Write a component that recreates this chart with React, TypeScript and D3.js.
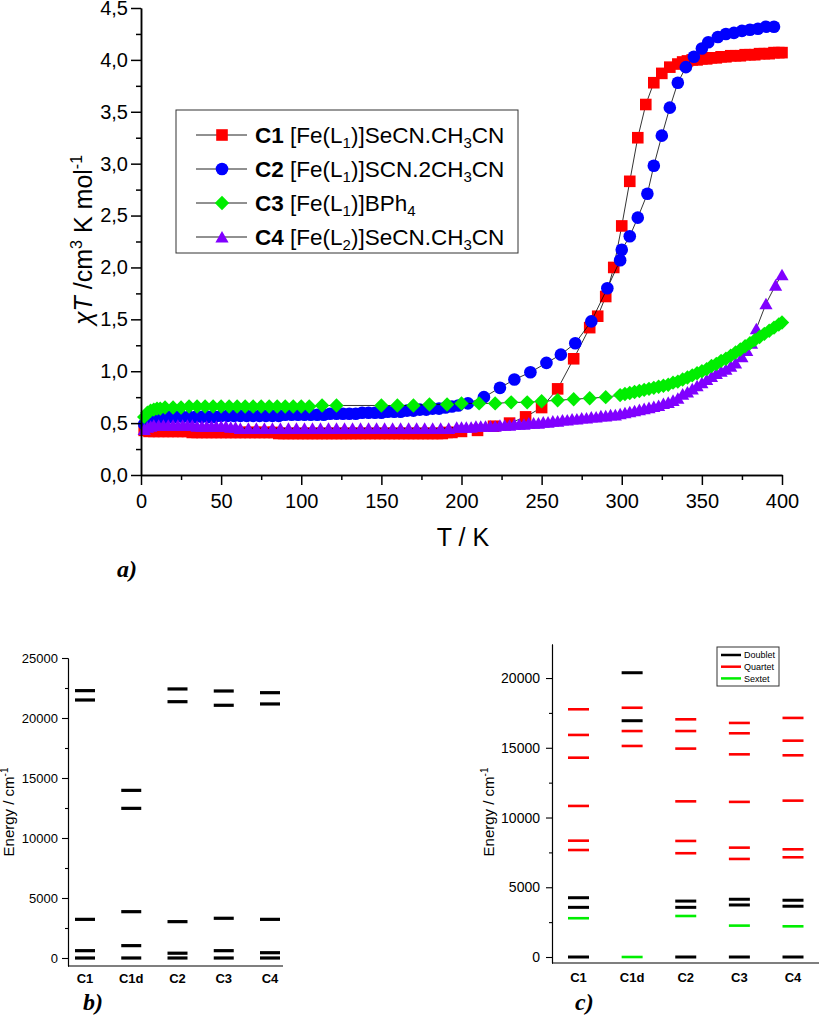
import React, { useEffect, useRef } from 'react';
import * as d3 from 'd3';

type Pt = [number, number];

// chi*T (cm3 K mol-1) against T (K) for the four complexes
const c1Data: Pt[] = [
  [2, 0.43], [5, 0.42], [8, 0.42], [11, 0.42], [14, 0.42], [17, 0.42], [20, 0.42], [23, 0.42], [26, 0.42], [29, 0.42],
  [32, 0.41], [35, 0.41], [38, 0.41], [41, 0.41], [44, 0.41], [47, 0.41], [50, 0.41], [53, 0.41], [56, 0.41], [59, 0.41],
  [62, 0.41], [65, 0.41], [68, 0.41], [71, 0.41], [74, 0.41], [77, 0.41], [80, 0.41], [83, 0.41], [86, 0.40], [89, 0.40],
  [92, 0.40], [95, 0.40], [98, 0.40], [101, 0.40], [104, 0.40], [107, 0.40], [110, 0.40], [113, 0.40], [116, 0.40], [119, 0.40],
  [122, 0.40], [125, 0.40], [128, 0.40], [131, 0.40], [134, 0.40], [137, 0.40], [140, 0.40], [143, 0.40], [146, 0.40], [149, 0.40],
  [152, 0.40], [155, 0.40], [158, 0.40], [161, 0.40], [164, 0.40], [167, 0.40], [170, 0.40], [173, 0.40], [176, 0.40], [179, 0.40],
  [182, 0.40], [185, 0.40], [188, 0.40], [191, 0.41], [194, 0.41],
  [200, 0.42], [210, 0.43], [220, 0.47], [230, 0.50], [240, 0.56], [250, 0.65], [260, 0.83], [270, 1.12], [280, 1.42], [285, 1.53],
  [290, 1.72], [295, 2.00], [300, 2.40], [305, 2.83], [310, 3.25], [315, 3.57], [320, 3.78], [325, 3.87], [330, 3.93], [335, 3.96],
  [338, 3.98], [341, 3.99], [344, 4.00], [347, 4.00], [350, 4.01], [353, 4.01], [356, 4.02], [359, 4.02], [362, 4.03], [365, 4.03],
  [368, 4.04], [371, 4.04], [374, 4.04], [377, 4.05], [380, 4.05], [383, 4.05], [386, 4.06], [389, 4.06], [392, 4.06], [395, 4.07],
  [398, 4.07], [400, 4.07],
];

const c2Data: Pt[] = [
  [2, 0.49], [4, 0.51], [6, 0.53], [8, 0.54], [10, 0.55], [14, 0.55], [18, 0.56], [22, 0.56], [26, 0.56], [30, 0.56],
  [34, 0.56], [38, 0.56], [42, 0.56], [46, 0.56], [50, 0.57], [54, 0.57], [58, 0.57], [62, 0.57], [66, 0.57], [70, 0.57],
  [74, 0.57], [78, 0.57], [82, 0.57], [86, 0.57], [90, 0.58], [94, 0.58], [98, 0.58], [102, 0.58], [106, 0.58], [110, 0.58],
  [114, 0.58], [118, 0.59], [122, 0.59], [126, 0.59], [130, 0.59], [134, 0.59], [138, 0.60], [142, 0.60], [146, 0.60], [150, 0.60],
  [154, 0.61], [158, 0.61], [162, 0.61], [166, 0.62], [170, 0.62], [174, 0.63], [178, 0.63], [182, 0.64], [186, 0.64], [190, 0.65],
  [194, 0.66], [198, 0.67],
  [204, 0.69], [214, 0.75], [224, 0.84], [233, 0.92], [243, 0.99], [253, 1.08], [262, 1.16], [271, 1.27], [281, 1.48], [291, 1.80],
  [299, 2.07], [300, 2.17], [305, 2.30], [310, 2.48], [316, 2.71], [320, 2.98], [325, 3.27], [330, 3.54], [335, 3.78], [340, 3.93],
  [345, 4.03], [350, 4.11], [354, 4.17], [360, 4.22], [365, 4.25], [370, 4.26], [375, 4.28], [380, 4.29], [385, 4.30], [390, 4.32],
  [395, 4.32],
];

const c3Data: Pt[] = [
  [2, 0.56], [4, 0.60], [6, 0.62], [8, 0.63], [10, 0.64], [12, 0.64], [15, 0.65], [20, 0.65], [25, 0.65], [30, 0.66],
  [35, 0.66], [40, 0.66], [45, 0.66], [50, 0.66], [55, 0.66], [60, 0.66], [65, 0.66], [70, 0.66], [75, 0.66], [80, 0.66],
  [85, 0.66], [90, 0.66], [95, 0.66], [100, 0.66], [105, 0.66], [113, 0.67], [122, 0.67], [150, 0.67], [160, 0.67], [170, 0.67],
  [180, 0.68], [191, 0.68], [200, 0.69], [211, 0.69], [221, 0.69], [231, 0.70], [241, 0.70], [250, 0.71], [260, 0.72], [270, 0.73],
  [280, 0.74], [290, 0.75], [299, 0.77], [302, 0.78], [305, 0.79], [308, 0.80], [311, 0.81], [314, 0.82], [317, 0.83], [320, 0.84],
  [323, 0.85], [326, 0.86], [329, 0.87], [332, 0.89], [335, 0.90], [338, 0.92], [341, 0.94], [344, 0.96], [347, 0.98], [350, 1.00],
  [353, 1.02], [356, 1.05], [359, 1.07], [362, 1.10], [365, 1.12], [368, 1.15], [371, 1.18], [374, 1.21], [377, 1.24], [380, 1.27],
  [383, 1.30], [386, 1.33], [389, 1.36], [392, 1.39], [395, 1.42], [398, 1.45], [400, 1.47],
];

const c4Data: Pt[] = [
  [2, 0.44], [4, 0.46], [6, 0.47], [8, 0.48], [11, 0.48], [14, 0.48], [17, 0.48], [20, 0.48], [23, 0.48], [26, 0.48],
  [29, 0.48], [32, 0.48], [35, 0.47], [38, 0.47], [41, 0.47], [44, 0.47], [47, 0.47], [50, 0.47], [53, 0.47], [56, 0.46],
  [59, 0.46], [62, 0.45], [67, 0.45], [72, 0.45], [77, 0.45], [82, 0.45], [87, 0.45], [92, 0.45], [97, 0.45], [102, 0.45],
  [107, 0.45], [112, 0.45], [117, 0.45], [122, 0.45], [127, 0.45], [132, 0.45], [137, 0.45], [142, 0.45], [147, 0.45], [152, 0.45],
  [157, 0.45], [162, 0.45], [167, 0.45], [172, 0.45], [177, 0.45], [182, 0.45], [187, 0.45], [192, 0.45], [197, 0.46],
  [200, 0.46], [203, 0.46], [206, 0.46], [209, 0.47], [212, 0.47], [215, 0.47], [218, 0.47], [221, 0.47], [224, 0.48], [227, 0.48],
  [230, 0.48], [233, 0.49], [236, 0.49], [239, 0.49], [242, 0.50], [245, 0.50], [248, 0.50], [251, 0.51], [254, 0.51], [257, 0.52],
  [260, 0.52], [263, 0.53], [266, 0.53], [269, 0.54], [272, 0.54], [275, 0.55], [278, 0.55], [281, 0.56], [284, 0.56], [287, 0.57],
  [290, 0.57], [293, 0.58], [296, 0.58], [299, 0.59], [302, 0.60], [305, 0.61], [308, 0.62], [311, 0.63], [314, 0.64], [317, 0.65],
  [320, 0.66], [323, 0.67], [326, 0.69], [329, 0.70], [332, 0.72], [335, 0.74], [338, 0.78], [341, 0.80], [344, 0.83], [347, 0.86],
  [350, 0.89], [353, 0.92], [356, 0.95], [359, 0.98], [362, 1.00], [365, 1.02], [368, 1.05], [371, 1.08], [375, 1.14], [378, 1.20],
  [381, 1.27], [384, 1.41], [390, 1.65], [396, 1.83], [400, 1.93],
];

const aXTicks = [0, 50, 100, 150, 200, 250, 300, 350, 400];
const aXMinor = [25, 75, 125, 175, 225, 275, 325, 375];
const aYTicks = [0, 0.5, 1, 1.5, 2, 2.5, 3, 3.5, 4, 4.5];
const aYMinor = [0.25, 0.75, 1.25, 1.75, 2.25, 2.75, 3.25, 3.75, 4.25];

// energy levels (cm-1)
const levelCats = ['C1', 'C1d', 'C2', 'C3', 'C4'];
const bLevels = [
  [0, 610, 3220, 21500, 22280],
  [0, 1030, 3860, 12470, 13970],
  [0, 400, 3030, 21360, 22420],
  [0, 610, 3310, 21060, 22250],
  [0, 440, 3220, 21170, 22110],
];
const bTicks = [0, 5000, 10000, 15000, 20000, 25000];
const bMinor = [2500, 7500, 12500, 17500, 22500];

const cDoublet = [
  [0, 3560, 4250],
  [16940, 20380],
  [0, 3560, 4010],
  [0, 3730, 4140],
  [0, 3640, 4070],
];
const cQuartet = [
  [7670, 8340, 10830, 14290, 15920, 17760],
  [15130, 16200, 17870],
  [7440, 8320, 11160, 14940, 16200, 17040],
  [7030, 7840, 11120, 14530, 16040, 16780],
  [7150, 7720, 11210, 14460, 15510, 17140],
];
const cSextet = [[2780], [0], [2940], [2250], [2200]];
const cTicks = [0, 5000, 10000, 15000, 20000];
const cMinor = [2500, 7500, 12500, 17500];
const spinLabels = ['Doublet', 'Quartet', 'Sextet'];
const spinColors = ['#000000', '#ff0000', '#00ee00'];

const SANS = '"Liberation Sans", Arial, sans-serif';
const SERIF = '"Liberation Serif", "Times New Roman", serif';

const markerPath = (shape: string) => {
  if (shape === 'square') return 'M-5.8,-5.8h11.6v11.6h-11.6Z';
  if (shape === 'diamond') return 'M0,-7.2L7.2,0L0,7.2L-7.2,0Z';
  if (shape === 'triangle') return 'M0,-6L6.6,5.6L-6.6,5.6Z';
  return d3.symbol().type(d3.symbolCircle).size(Math.PI * 6.3 * 6.3)() as string;
};

type Sel = d3.Selection<SVGGElement, unknown, null, undefined>;

const styleAxis = (g: Sel, width: number, size: number) => {
  g.selectAll('path, line').attr('stroke', '#000').attr('stroke-width', width);
  g.selectAll('text').attr('font-size', size).attr('font-family', SANS).attr('fill', '#000');
};

const App = () => {
  const svgRef = useRef<SVGSVGElement>(null);

  useEffect(() => {
    if (!svgRef.current) return;
    const svg = d3.select(svgRef.current);
    svg.selectAll('*').remove();

    // ---------- a) chi*T vs T ----------
    const ax = d3.scaleLinear().domain([0, 400]).range([141, 782]);
    const ay = d3.scaleLinear().domain([0, 4.5]).range([475, 8]);
    const ga = svg.append('g');

    const series = [
      { name: 'C1', data: c1Data, color: '#ff0000', shape: 'square' },
      { name: 'C2', data: c2Data, color: '#0000ff', shape: 'circle' },
      { name: 'C4', data: c4Data, color: '#8000ff', shape: 'triangle' },
      { name: 'C3', data: c3Data, color: '#00ee00', shape: 'diamond' },
    ];

    const line = d3.line<Pt>().x(d => ax(d[0])).y(d => ay(d[1]));
    series.forEach(s => {
      const g = ga.append('g');
      g.append('path').attr('d', line(s.data)).attr('fill', 'none').attr('stroke', '#000').attr('stroke-width', 0.8);
      g.selectAll('path.m').data(s.data).enter().append('path')
        .attr('class', 'm')
        .attr('d', markerPath(s.shape))
        .attr('transform', d => `translate(${ax(d[0])},${ay(d[1])})`)
        .attr('fill', s.color);
    });

    const fmtComma = (d: d3.NumberValue) => d3.format('.1f')(+d).replace('.', ',');
    const axMinor = ga.append('g').attr('transform', `translate(0,${ay(0)})`)
      .call(d3.axisBottom(ax).tickValues(aXMinor).tickSize(5).tickSizeOuter(0).tickFormat(() => ''));
    styleAxis(axMinor, 1.5, 20);
    const axMajor = ga.append('g').attr('transform', `translate(0,${ay(0)})`)
      .call(d3.axisBottom(ax).tickValues(aXTicks).tickSize(10).tickPadding(9).tickSizeOuter(0));
    styleAxis(axMajor, 1.5, 20);
    const ayMinor = ga.append('g').attr('transform', `translate(${ax(0)},0)`)
      .call(d3.axisLeft(ay).tickValues(aYMinor).tickSize(5).tickSizeOuter(0).tickFormat(() => ''));
    styleAxis(ayMinor, 1.5, 20);
    const ayMajor = ga.append('g').attr('transform', `translate(${ax(0)},0)`)
      .call(d3.axisLeft(ay).tickValues(aYTicks).tickSize(10).tickPadding(3).tickSizeOuter(0).tickFormat(fmtComma));
    styleAxis(ayMajor, 1.5, 20);

    ga.append('text').attr('x', 463).attr('y', 546).attr('text-anchor', 'middle')
      .attr('font-family', SANS).attr('font-size', 25).text('T / K');

    const yt = ga.append('text').attr('transform', 'translate(92,240) rotate(-90)')
      .attr('text-anchor', 'middle').attr('font-family', SANS).attr('font-size', 25);
    yt.append('tspan').attr('font-style', 'italic').text('χT');
    yt.append('tspan').text(' /cm');
    yt.append('tspan').attr('font-size', 16).attr('dy', -10).text('3');
    yt.append('tspan').attr('dy', 10).text(' K mol');
    yt.append('tspan').attr('font-size', 16).attr('dy', -10).text('-1');

    // legend
    const lg = ga.append('g');
    lg.append('rect').attr('x', 176).attr('y', 110).attr('width', 342).attr('height', 143)
      .attr('fill', '#fff').attr('stroke', '#333').attr('stroke-width', 1);
    const legendRows = [
      { name: 'C1', color: '#ff0000', shape: 'square', parts: [' [Fe(L', '1', ')]SeCN.CH', '3', 'CN'] },
      { name: 'C2', color: '#0000ff', shape: 'circle', parts: [' [Fe(L', '1', ')]SCN.2CH', '3', 'CN'] },
      { name: 'C3', color: '#00ee00', shape: 'diamond', parts: [' [Fe(L', '1', ')]BPh', '4'] },
      { name: 'C4', color: '#8000ff', shape: 'triangle', parts: [' [Fe(L', '2', ')]SeCN.CH', '3', 'CN'] },
    ];
    legendRows.forEach((r, i) => {
      const cy = 135 + i * 34;
      lg.append('line').attr('x1', 196).attr('x2', 247).attr('y1', cy).attr('y2', cy)
        .attr('stroke', '#222').attr('stroke-width', 1);
      lg.append('path').attr('d', markerPath(r.shape)).attr('transform', `translate(222,${cy})`).attr('fill', r.color);
      const t = lg.append('text').attr('x', 255).attr('y', cy + 7.5).attr('font-family', SANS).attr('font-size', 22.5);
      t.append('tspan').attr('font-weight', 'bold').text(r.name);
      r.parts.forEach((p, k) => {
        const sub = k % 2 === 1;
        t.append('tspan').attr('font-size', sub ? 15 : 22.5).attr('dy', sub ? 5 : (k > 0 ? -5 : 0)).text(p);
      });
    });

    ga.append('text').attr('x', 117).attr('y', 577).attr('font-family', SERIF)
      .attr('font-style', 'italic').attr('font-weight', 'bold').attr('font-size', 24).text('a)');

    // ---------- b) energy levels ----------
    const bx = d3.scalePoint<string>().domain(levelCats).range([85, 270]);
    const by = d3.scaleLinear().domain([-667, 25000]).range([966, 658]);
    const gb = svg.append('g');
    levelCats.forEach((c, i) => {
      gb.selectAll(null).data(bLevels[i]).enter().append('line')
        .attr('x1', (bx(c) as number) - 10).attr('x2', (bx(c) as number) + 10)
        .attr('y1', d => by(d)).attr('y2', d => by(d))
        .attr('stroke', '#000').attr('stroke-width', 3.2);
    });
    const byMinor = gb.append('g').attr('transform', 'translate(68,0)')
      .call(d3.axisLeft(by).tickValues(bMinor).tickSize(3).tickSizeOuter(0).tickFormat(() => ''));
    styleAxis(byMinor, 1.1, 13);
    const byMajor = gb.append('g').attr('transform', 'translate(68,0)')
      .call(d3.axisLeft(by).tickValues(bTicks).tickSize(6).tickPadding(4).tickSizeOuter(0).tickFormat(d3.format('d')));
    styleAxis(byMajor, 1.1, 13);
    gb.append('line').attr('x1', 68).attr('x2', 283).attr('y1', 966).attr('y2', 966)
      .attr('stroke', '#000').attr('stroke-width', 1.1);
    gb.selectAll(null).data(levelCats).enter().append('text')
      .attr('x', d => bx(d) as number).attr('y', 983).attr('text-anchor', 'middle')
      .attr('font-family', SANS).attr('font-weight', 'bold').attr('font-size', 13).text(d => d);
    const bt = gb.append('text').attr('transform', 'translate(14,812) rotate(-90)')
      .attr('text-anchor', 'middle').attr('font-family', SANS).attr('font-size', 15);
    bt.append('tspan').text('Energy / cm');
    bt.append('tspan').attr('font-size', 10).attr('dy', -6).text('-1');
    gb.append('text').attr('x', 83).attr('y', 1010).attr('font-family', SERIF)
      .attr('font-style', 'italic').attr('font-weight', 'bold').attr('font-size', 24).text('b)');

    // ---------- c) energy levels by spin state ----------
    const cx = d3.scalePoint<string>().domain(levelCats).range([578.5, 793]);
    const cyS = d3.scaleLinear().domain([-430, 22440]).range([963, 644]);
    const gc = svg.append('g');
    const spinSets = [cDoublet, cQuartet, cSextet];
    levelCats.forEach((c, i) => {
      spinSets.forEach((set, s) => {
        gc.selectAll(null).data(set[i]).enter().append('line')
          .attr('x1', (cx(c) as number) - 10.5).attr('x2', (cx(c) as number) + 10.5)
          .attr('y1', d => cyS(d)).attr('y2', d => cyS(d))
          .attr('stroke', spinColors[s]).attr('stroke-width', s === 0 ? 3 : 2.6);
      });
    });
    const cyMinor = gc.append('g').attr('transform', 'translate(552,0)')
      .call(d3.axisLeft(cyS).tickValues(cMinor).tickSize(3).tickSizeOuter(0).tickFormat(() => ''));
    styleAxis(cyMinor, 1.1, 14);
    const cyMajor = gc.append('g').attr('transform', 'translate(552,0)')
      .call(d3.axisLeft(cyS).tickValues(cTicks).tickSize(6).tickPadding(6).tickSizeOuter(0).tickFormat(d3.format('d')));
    styleAxis(cyMajor, 1.1, 14);
    gc.append('line').attr('x1', 552).attr('x2', 819).attr('y1', 963).attr('y2', 963)
      .attr('stroke', '#000').attr('stroke-width', 1.1);
    gc.selectAll(null).data(levelCats).enter().append('text')
      .attr('x', d => cx(d) as number).attr('y', 982).attr('text-anchor', 'middle')
      .attr('font-family', SANS).attr('font-weight', 'bold').attr('font-size', 13).text(d => d);
    const ct = gc.append('text').attr('transform', 'translate(494,812) rotate(-90)')
      .attr('text-anchor', 'middle').attr('font-family', SANS).attr('font-size', 15);
    ct.append('tspan').text('Energy / cm');
    ct.append('tspan').attr('font-size', 10).attr('dy', -6).text('-1');

    const cl = gc.append('g');
    cl.append('rect').attr('x', 717).attr('y', 647).attr('width', 62).attr('height', 39)
      .attr('fill', '#fff').attr('stroke', '#333').attr('stroke-width', 1);
    spinLabels.forEach((lab, i) => {
      const yy = 655 + i * 11.7;
      cl.append('line').attr('x1', 721).attr('x2', 741).attr('y1', yy).attr('y2', yy)
        .attr('stroke', spinColors[i]).attr('stroke-width', 2.5);
      cl.append('text').attr('x', 744).attr('y', yy + 3.2).attr('font-family', SANS).attr('font-size', 9).text(lab);
    });
    gc.append('text').attr('x', 575).attr('y', 1010).attr('font-family', SERIF)
      .attr('font-style', 'italic').attr('font-weight', 'bold').attr('font-size', 24).text('c)');
  }, []);

  return (
    <div>
      <svg ref={svgRef} width={827} height={1017}
        style={{ position: 'absolute', left: 0, top: 0, background: '#fff' }} />
    </div>
  );
};

export default App;
